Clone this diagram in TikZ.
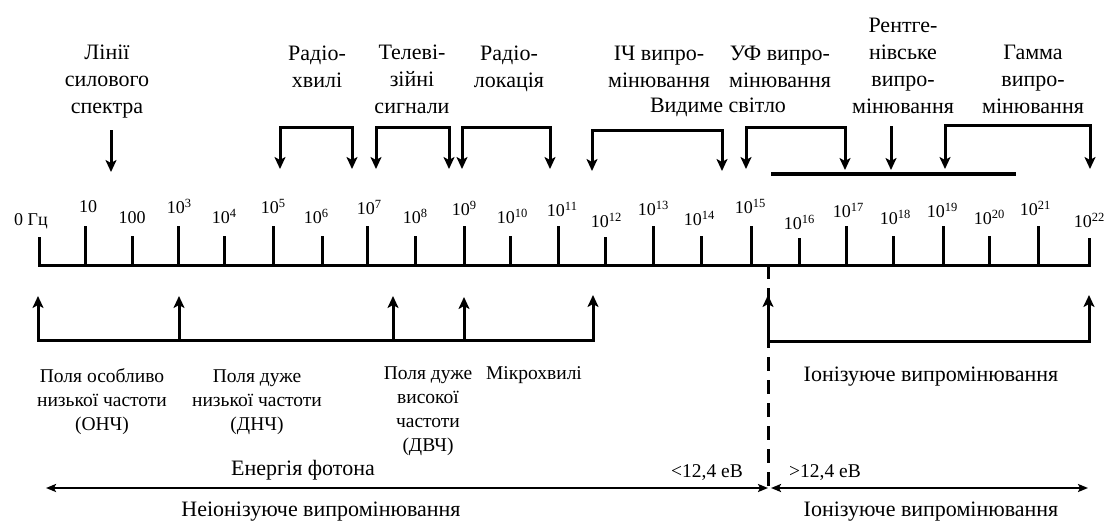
\documentclass[tikz,border=0pt]{standalone}
\usepackage{fontspec}
\setmainfont{Liberation Serif}
\usetikzlibrary{arrows.meta}

% power of ten with a raised exponent
\newcommand\tenpow[1]{10\raisebox{6pt}{\fontsize{12.5}{12.5}\selectfont #1}}

\begin{document}
\begin{tikzpicture}[x=1pt,y=-1pt,
  line width=3pt, line join=miter,
  % multi-line labels are placed by the baseline of their last line
  bigtext/.style={font=\fontsize{22}{26.7}\selectfont, align=center, anchor=base, inner sep=0pt},
  fieldtext/.style={font=\fontsize{19.5}{24}\selectfont, align=center, anchor=base, inner sep=0pt},
  ticktext/.style={font=\fontsize{18}{18}\selectfont, anchor=base, inner sep=0pt},
  evtext/.style={font=\fontsize{19.5}{19.5}\selectfont, anchor=base, inner sep=0pt},
  tip/.tip={Stealth[length=12pt,width=11pt,inset=3pt]},
  arr/.style={-tip},
  botharr/.style={tip-tip},
  smalltip/.tip={Stealth[length=10pt,width=8pt,inset=2pt]},
  energyarr/.style={smalltip-smalltip, line width=2.5pt},
  divider/.style={line width=3pt, dash pattern=on 14pt off 9pt}
]
\fill[white] (0,0) rectangle (1108,525);
\useasboundingbox (0,0) rectangle (1108,525);

% frequency axis: tick position, tick top, label centre, label baseline, label
\foreach \i/\x/\top/\lx/\ly/\txt in {
  0/39/237/31/225/{0 Гц},
  1/85/226/88/212/{10},
  2/132/236/132/223/{100},
  3/178/226/179/213/{\tenpow{3}},
  4/224/236/224/223/{\tenpow{4}},
  5/273/226/273/213/{\tenpow{5}},
  6/322/236/316/223/{\tenpow{6}},
  7/367/226/369/214/{\tenpow{7}},
  8/415/236/415/223/{\tenpow{8}},
  9/464/226/464/215/{\tenpow{9}},
  10/510/236/512/223/{\tenpow{10}},
  11/558/226/562/216/{\tenpow{11}},
  12/605/237/606/227/{\tenpow{12}},
  13/653/226/653/215/{\tenpow{13}},
  14/701/236/699/225/{\tenpow{14}},
  15/751/226/750/213/{\tenpow{15}},
  16/799/238/799/229/{\tenpow{16}},
  17/846/226/848/217/{\tenpow{17}},
  18/893/236/895/224/{\tenpow{18}},
  19/943/226/942/217/{\tenpow{19}},
  20/989/236/989/224/{\tenpow{20}},
  21/1038/226/1035/215/{\tenpow{21}},
  22/1089/238/1089/227/{\tenpow{22}}} {
  \coordinate (k\i) at (\x,265);
  \coordinate (kt\i) at (\x,\top);
  \node[ticktext] (n\i) at (\lx,\ly) {\txt};
}
\draw (kt0) -- (k0) -- (k22) -- (kt22);
\foreach \i in {1,...,21} \draw (k\i) -- (kt\i);

% band names above the axis
\node[bigtext] (lin)   at (107,113) {Лінії\\силового\\спектра};
\node[bigtext] (radio) at (317,87)  {Радіо-\\хвилі};
\node[bigtext] (tv)    at (412,113) {Телеві-\\зійні\\сигнали};
\node[bigtext] (radar) at (509,87)  {Радіо-\\локація};
\node[bigtext] (ir)    at (659,87)  {ІЧ випро-\\мінювання};
\node[bigtext] (uv)    at (780,87)  {УФ випро-\\мінювання};
\node[bigtext] (vis)   at (718,112) {Видиме світло};
\node[bigtext] (xray)  at (903,113) {Рентге-\\нівське\\випро-\\мінювання};
\node[bigtext] (gamma) at (1033,113) {Гамма\\випро-\\мінювання};

% arrows and brackets above the axis
\coordinate (linA) at (111,130);  \coordinate (linB) at (111,172);
\draw[arr] (linA) -- (linB);
\coordinate (radioL) at (280,169); \coordinate (radioR) at (352,169);
\draw[botharr] (radioL) -- ++(0,-42) -| (radioR);
\coordinate (tvL) at (376,169);    \coordinate (tvR) at (449,169);
\draw[botharr] (tvL) -- ++(0,-42) -| (tvR);
\coordinate (radarL) at (462,169); \coordinate (radarR) at (550,169);
\draw[botharr] (radarL) -- ++(0,-42) -| (radarR);
\coordinate (irL) at (592,171);    \coordinate (irR) at (722,171);
\draw[botharr] (irL) -- ++(0,-41) -| (irR);
\coordinate (uvL) at (746,169);    \coordinate (uvR) at (845,170);
\draw[botharr] (uvL) -- ++(0,-42) -| (uvR);
\coordinate (xrA) at (891,126);    \coordinate (xrB) at (891,170);
\draw[arr] (xrA) -- (xrB);
\coordinate (gamL) at (945,169);   \coordinate (gamR) at (1090,169);
\draw[botharr] (gamL) -- ++(0,-44) -| (gamR);
\coordinate (barA) at (771,174);   \coordinate (barB) at (1016,174);
\draw[line width=3.2pt] (barA) -- (barB);

% brackets below the axis
\coordinate (lo0) at (38,296);
\coordinate (lo1) at (179,296);
\coordinate (lo2) at (393,296);
\coordinate (lo3) at (464,297);
\coordinate (lo4) at (593,295);
\draw[botharr] (lo0) -- ++(0,44) -| (lo4);
\foreach \c in {lo1,lo2,lo3} \draw[arr] ([yshift=-44pt]\c) -- (\c);
\coordinate (ro0) at (768,295);
\coordinate (ro1) at (1089,295);
\draw[botharr] (ro0) -- ++(0,46) -| (ro1);

% ionisation threshold
\coordinate (dv0) at (768,265);
\coordinate (dv1) at (768,491);
\draw[divider] (dv0) -- (dv1);

% band names below the axis
\node[fieldtext] (onch)  at (102,430) {Поля особливо\\низької частоти\\(ОНЧ)};
\node[fieldtext] (dnch)  at (257,430) {Поля дуже\\низької частоти\\(ДНЧ)};
\node[fieldtext] (dvch)  at (428,451) {Поля дуже\\високої\\частоти\\(ДВЧ)};
\node[fieldtext] (micro) at (534,379) {Мікрохвилі};
\node[bigtext]   (ion1)  at (931,381) {Іонізуюче випромінювання};

% photon energy
\node[bigtext] (energy) at (303,475) {Енергія фотона};
\node[evtext]  (evlo)   at (707,477) {<12,4 еВ};
\node[evtext]  (evhi)   at (825,477) {>12,4 еВ};
\coordinate (ea0) at (46,488);  \coordinate (ea1) at (768,488);
\coordinate (eb0) at (771,488); \coordinate (eb1) at (1088,488);
\draw[energyarr] (ea0) -- (ea1);
\draw[energyarr] (eb0) -- (eb1);
\node[bigtext] (nonion) at (321,516) {Неіонізуюче випромінювання};
\node[bigtext] (ion2)   at (931,516) {Іонізуюче випромінювання};
\end{tikzpicture}
\end{document}
